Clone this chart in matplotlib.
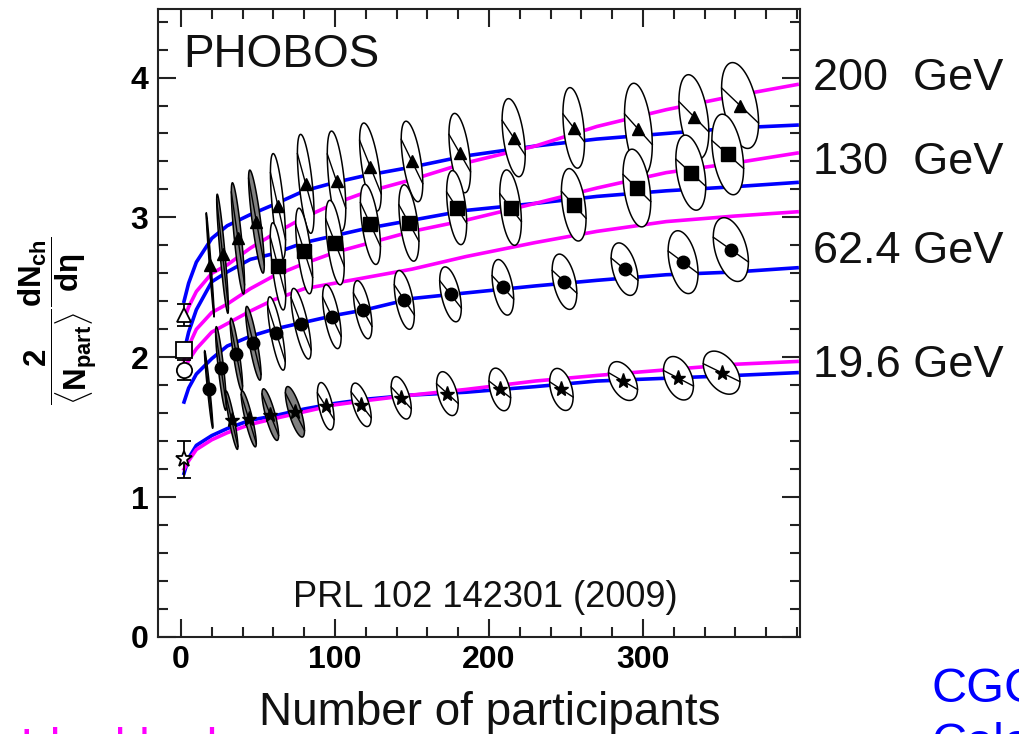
import numpy as np
import matplotlib.pyplot as plt
from matplotlib.ticker import MultipleLocator

plt.rcParams['font.family'] = ['Liberation Sans', 'DejaVu Sans']
plt.rcParams['mathtext.fontset'] = 'custom'
plt.rcParams['mathtext.rm'] = 'Liberation Sans:bold'
plt.rcParams['mathtext.it'] = 'Liberation Sans:bold'
plt.rcParams['mathtext.bf'] = 'Liberation Sans:bold'

# model curves (blue and magenta) read at a few Npart values
npart_grid = [2, 5, 10, 20, 30, 45, 60, 80, 100, 120, 150, 185, 230, 270, 315, 360, 400]
blue_200 = [2.40, 2.53, 2.68, 2.85, 2.94, 3.02, 3.09, 3.19, 3.25, 3.30, 3.36, 3.44, 3.51, 3.56, 3.60, 3.64, 3.66]
mag_200 = [2.27, 2.36, 2.47, 2.60, 2.66, 2.78, 2.88, 3.00, 3.10, 3.18, 3.27, 3.39, 3.51, 3.65, 3.77, 3.87, 3.95]
blue_130 = [2.04, 2.18, 2.34, 2.54, 2.61, 2.70, 2.74, 2.82, 2.87, 2.92, 2.98, 3.05, 3.10, 3.15, 3.19, 3.22, 3.25]
mag_130 = [1.98, 2.08, 2.20, 2.32, 2.38, 2.49, 2.58, 2.67, 2.75, 2.81, 2.90, 2.98, 3.10, 3.21, 3.32, 3.39, 3.46]
blue_62 = [1.68, 1.78, 1.88, 1.99, 2.08, 2.15, 2.20, 2.25, 2.30, 2.34, 2.42, 2.46, 2.51, 2.55, 2.59, 2.61, 2.64]
mag_62 = [1.90, 1.98, 2.06, 2.18, 2.24, 2.33, 2.41, 2.49, 2.53, 2.57, 2.63, 2.72, 2.82, 2.90, 2.97, 3.01, 3.04]
blue_19 = [1.17, 1.28, 1.37, 1.44, 1.49, 1.55, 1.58, 1.63, 1.67, 1.70, 1.73, 1.75, 1.79, 1.83, 1.85, 1.87, 1.89]
mag_19 = [1.20, 1.26, 1.34, 1.41, 1.46, 1.52, 1.56, 1.61, 1.66, 1.69, 1.73, 1.77, 1.83, 1.87, 1.91, 1.95, 1.97]

# Au+Au data: Npart, value, Npart uncertainty, vertical uncertainty
n_200 = [19, 27, 37, 49, 63, 81, 101, 123, 150, 181, 216, 255, 297, 333, 363]
y_200 = [2.66, 2.74, 2.85, 2.97, 3.08, 3.24, 3.26, 3.36, 3.40, 3.46, 3.57, 3.64, 3.63, 3.72, 3.80]
dn_200 = [2.6, 3.8, 4.3, 5.1, 4.9, 5.4, 6.0, 7.0, 7.0, 7.0, 7.5, 7.0, 9.0, 9.7, 12.0]
e_200 = [0.08, 0.18, 0.22, 0.20, 0.29, 0.28, 0.30, 0.25, 0.24, 0.25, 0.25, 0.27, 0.31, 0.28, 0.28]

n_130 = [63, 80, 100, 123, 148, 179, 214, 255, 296, 331, 355]
y_130 = [2.65, 2.76, 2.82, 2.95, 2.96, 3.07, 3.07, 3.09, 3.21, 3.32, 3.45]
dn_130 = [5.0, 5.5, 6.0, 6.5, 6.5, 6.5, 7.0, 8.0, 9.0, 9.7, 10.3]
e_130 = [0.23, 0.24, 0.25, 0.24, 0.24, 0.24, 0.25, 0.24, 0.26, 0.25, 0.27]

n_62 = [18, 26, 36, 47, 62, 78, 98, 118, 145, 175, 209, 249, 288, 326, 357]
y_62 = [1.77, 1.92, 2.02, 2.10, 2.17, 2.24, 2.29, 2.34, 2.41, 2.45, 2.50, 2.54, 2.63, 2.68, 2.77]
dn_62 = [2.7, 3.5, 4.0, 5.0, 5.7, 6.5, 6.0, 6.0, 6.5, 7.0, 7.0, 8.0, 8.7, 9.7, 11.4]
e_62 = [0.08, 0.15, 0.13, 0.14, 0.17, 0.17, 0.18, 0.17, 0.18, 0.17, 0.18, 0.18, 0.17, 0.21, 0.21]

n_19 = [33, 44, 58, 74, 94, 117, 143, 173, 207, 247, 287, 323, 351]
y_19 = [1.55, 1.56, 1.59, 1.61, 1.65, 1.66, 1.71, 1.74, 1.77, 1.77, 1.83, 1.85, 1.89]
dn_19 = [4.0, 4.9, 5.4, 6.2, 5.4, 6.5, 6.5, 7.0, 7.0, 7.6, 9.4, 9.7, 11.9]
e_19 = [0.09, 0.10, 0.11, 0.12, 0.14, 0.125, 0.13, 0.14, 0.14, 0.14, 0.125, 0.145, 0.14]

# p+p points at Npart = 2
pp_npart = 2
pp_val = [2.30, 2.05, 1.91, 1.27]
pp_err = [0.08, 0.05, 0.07, 0.13]

energy_labels = ['200  GeV', '130  GeV', '62.4 GeV', '19.6 GeV']

fig = plt.figure(figsize=(10.2, 7.34), dpi=100)
ax = fig.add_axes([158/1020, 97/734, 642/1020, 628/734])

for b, m in [(blue_200, mag_200), (blue_130, mag_130), (blue_62, mag_62), (blue_19, mag_19)]:
    ax.plot(npart_grid, b, color='#0000ff', lw=2.6, zorder=2)
    ax.plot(npart_grid, m, color='#ff00ff', lw=2.6, zorder=2)

t = np.linspace(0, 2*np.pi, 120)

def draw_set(n, y, dn, e, n_grey, marker, ms):
    for i in range(len(n)):
        s = -y[i] / n[i]
        ex = n[i] + dn[i]*np.cos(t)
        ey = y[i] + s*dn[i]*np.cos(t) + e[i]*np.sin(t)
        fc = '#808080' if i < n_grey else 'white'
        ax.fill(ex, ey, facecolor=fc, edgecolor='black', lw=1.1, zorder=3)
        ax.plot([n[i]-dn[i], n[i]+dn[i]], [y[i]-s*dn[i], y[i]+s*dn[i]],
                color='black', lw=1.0, zorder=4)
    ax.plot(n, y, ls='none', marker=marker, ms=ms, color='black', zorder=5)

draw_set(n_200, y_200, dn_200, e_200, 4, '^', 9)
draw_set(n_130, y_130, dn_130, e_130, 0, 's', 10)
draw_set(n_62, y_62, dn_62, e_62, 4, 'o', 9)
draw_set(n_19, y_19, dn_19, e_19, 4, '*', 11)

for val, err, mk, ms in zip(pp_val, pp_err, ['^', 's', 'o', '*'], [10, 11.5, 11, 12]):
    ax.errorbar([pp_npart], [val], yerr=[err], fmt=mk, ms=ms, mfc='white', mec='black',
                mew=1.3, ecolor='black', elinewidth=1.3, capsize=5, zorder=6)

ax.set_xlim(-14.9, 401.9)
ax.set_ylim(0, 4.49)
ax.set_xticks([0, 100, 200, 300])
ax.set_yticks([0, 1, 2, 3, 4])
ax.xaxis.set_minor_locator(MultipleLocator(20))
ax.yaxis.set_minor_locator(MultipleLocator(0.2))
ax.tick_params(which='both', direction='in', top=True, right=True, width=1.5, colors='#222222')
ax.tick_params(which='major', length=13, labelsize=23, labelcolor='black')
ax.tick_params(axis='x', which='major', pad=6)
ax.tick_params(axis='y', which='major', pad=7)
ax.tick_params(which='minor', length=7)
for lbl in ax.get_xticklabels() + ax.get_yticklabels():
    lbl.set_fontweight('bold')
for sp in ax.spines.values():
    sp.set_linewidth(1.5)
    sp.set_color('#222222')

fig.text(183/1020, (734-67)/734, 'PHOBOS', fontsize=33, va='baseline', color='#111111')
fig.text(293/1020, (734-607)/734, 'PRL 102 142301 (2009)', fontsize=26, va='baseline', color='#111111')
for lab, base in zip(energy_labels, [90, 174, 263, 377]):
    fig.text(813/1020, (734-base)/734, lab, fontsize=32.5, va='baseline', color='#111111')

fig.text(490/1020, (734-725)/734, 'Number of participants', fontsize=33, ha='center',
         va='baseline', color='#111111')
fig.text(58/1020, (734-321)/734,
         r'$\dfrac{2}{\langle N_{part}\rangle}\dfrac{dN_{ch}}{d\eta}$',
         rotation=90, ha='center', va='center', fontsize=22.5)

# slide texts that the crop cuts off at the bottom and right edges
fig.text(932/1020, (734-702)/734, 'CGC', fontsize=35, color='#0000ff', va='baseline')
fig.text(932/1020, (734-757)/734, 'Color', fontsize=35, color='#0000ff', va='baseline')
fig.text(20/1020, (734-762)/734, 'Ideal hydro', fontsize=35, color='#ff00ff', va='baseline')

fig.savefig('out.png', dpi=100)
